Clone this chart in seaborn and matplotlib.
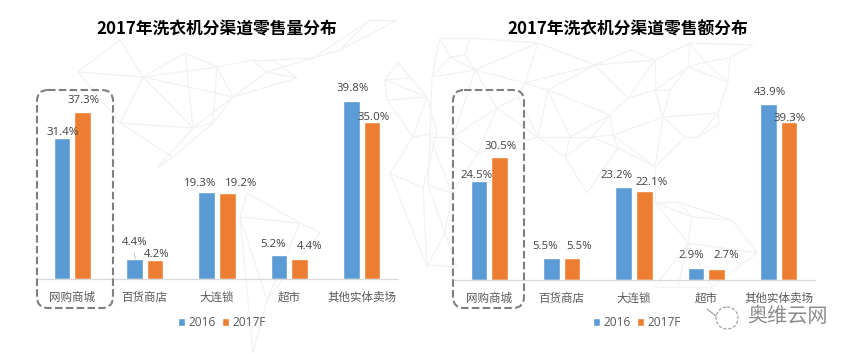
import numpy as np
import pandas as pd
import matplotlib
matplotlib.use("Agg")
import matplotlib.pyplot as plt
from matplotlib.patches import FancyBboxPatch, Circle
from matplotlib.collections import LineCollection
import seaborn as sns

categories = ["网购商城", "百货商店", "大连锁", "超市", "其他实体卖场"]
years = ["2016", "2017F"]
volume_2016 = [31.4, 4.4, 19.3, 5.2, 39.8]
volume_2017 = [37.3, 4.2, 19.2, 4.4, 35.0]
value_2016 = [24.5, 5.5, 23.2, 2.9, 43.9]
value_2017 = [30.5, 5.5, 22.1, 2.7, 39.3]
title_volume = "2017年洗衣机分渠道零售量分布"
title_value = "2017年洗衣机分渠道零售额分布"

# label offsets in pixels from the bar's top-centre (style only)
off_vol = [[(1, 6), (0, 16), (-7, 9), (-6, 11), (1, 12)],
           [(1, 11), (2, 5), (14, 9), (10, 12), (2, 5)]]
off_val = [[(-2, 6), (-6, 11), (-7, 11), (-5, 12), (1, 11)],
           [(1, 11), (7, 11), (7, 8), (10, 13), (1, 4)]]

W, H = 857, 354
BLUE, ORANGE = "#5b9bd5", "#ed7d31"
TXT = "#595959"
sns.set_theme(style="white")
plt.rcParams["font.family"] = ["Noto Sans CJK SC", "DejaVu Sans"]
fig = plt.figure(figsize=(W / 100, H / 100), dpi=100, facecolor="white")

# faint decorative mesh behind everything, in pixel coordinates
bg = fig.add_axes([0, 0, 1, 1], zorder=0)
bg.set_xlim(0, W); bg.set_ylim(H, 0); bg.axis("off")
mesh_paths = [
    [(78, 72), (120, 40), (143, 77), (78, 72), (120, 123), (143, 77), (185, 53), (217, 67), (143, 77), (193, 128), (120, 123)],
    [(120, 123), (173, 157), (157, 168), (193, 128), (213, 123), (233, 97), (217, 67), (252, 60), (273, 60), (297, 78), (233, 97)],
    [(185, 53), (193, 128), (233, 97), (143, 77)],
    [(217, 67), (213, 123), (173, 157)],
    [(252, 60), (267, 72), (297, 78)],
    [(233, 97), (267, 72), (313, 58), (340, 50), (397, 20), (370, 20), (313, 58), (273, 60)],
    [(340, 50), (370, 20)],
    [(398, 63), (410, 78), (385, 80), (398, 63), (427, 97), (387, 100), (385, 80), (427, 97), (413, 137), (387, 100)],
    [(413, 137), (437, 133), (427, 97)],
    [(413, 137), (390, 173), (423, 188), (437, 133)],
    [(423, 188), (427, 267), (390, 173)],
    [(247, 193), (300, 223), (320, 233), (267, 300), (253, 353), (240, 217), (247, 193)],
    [(240, 217), (300, 223), (267, 300), (240, 217)],
    [(440, 38), (470, 38), (465, 55), (450, 57), (440, 38), (432, 77), (450, 57), (475, 70), (465, 55)],
    [(470, 38), (538, 43), (475, 70), (525, 83), (538, 43), (595, 65), (525, 83), (548, 90), (595, 65), (630, 50), (655, 60), (595, 65)],
    [(432, 77), (475, 70), (497, 108), (518, 97), (525, 83)],
    [(432, 77), (430, 137), (453, 137), (475, 70)],
    [(453, 137), (497, 108), (478, 153), (453, 137), (452, 193), (478, 153), (538, 137), (497, 108)],
    [(430, 137), (452, 193), (428, 185), (430, 137)],
    [(428, 185), (445, 233), (452, 193)],
    [(428, 265), (445, 233), (457, 267), (428, 265)],
    [(518, 97), (538, 137), (548, 90), (570, 137), (538, 137), (565, 157), (570, 137), (592, 137), (565, 157), (587, 193), (618, 148), (592, 137)],
    [(548, 90), (610, 115), (570, 137)],
    [(610, 115), (592, 137), (613, 135), (610, 115), (628, 98), (655, 90), (663, 117), (613, 135), (618, 148), (655, 167), (613, 135)],
    [(595, 65), (628, 98), (655, 60), (655, 90), (688, 67), (670, 90), (663, 117), (655, 90), (670, 90)],
    [(655, 60), (690, 43), (688, 67), (705, 62), (690, 43), (753, 45), (730, 58), (705, 62), (728, 82), (730, 58)],
    [(688, 67), (728, 82), (718, 113), (718, 125), (698, 137), (685, 137), (663, 117), (718, 113), (698, 137)],
    [(655, 167), (685, 137), (663, 117), (655, 167), (655, 202), (678, 202), (692, 217), (732, 220), (757, 253), (688, 243), (692, 217), (655, 202), (688, 243), (655, 287), (678, 287), (688, 243), (712, 287), (678, 287)],
    [(678, 202), (732, 220)],
    [(757, 253), (712, 287)],
]
segs = [(a, b) for p in mesh_paths for a, b in zip(p[:-1], p[1:])]
bg.add_collection(LineCollection(segs, colors="#f2f2f2", linewidths=0.9))


def panel(x0, x1, base, px_per_unit, v1, v2, offs, title, tcx, box, legend_x):
    top = 50
    ax = fig.add_axes([x0 / W, (H - base) / H, (x1 - x0) / W, top * px_per_unit / H], zorder=2)
    ax.patch.set_alpha(0)
    df = pd.DataFrame({
        "cat": categories * 2,
        "year": [years[0]] * 5 + [years[1]] * 5,
        "val": list(v1) + list(v2),
    })
    sns.barplot(data=df, x="cat", y="val", hue="year", hue_order=years,
                palette=[BLUE, ORANGE], width=0.57, gap=0.19, ax=ax,
                saturation=1, errorbar=None)
    ax.set_ylim(0, top)
    ax.set_xlim(-0.5, 4.5)
    ax.set_xlabel(""); ax.set_ylabel("")
    ax.set_yticks([])
    for s in ("top", "left", "right"):
        ax.spines[s].set_visible(False)
    ax.spines["bottom"].set_color("#d9d9d9")
    ax.spines["bottom"].set_linewidth(0.9)
    ax.tick_params(axis="x", length=0, pad=9, labelsize=8.3, labelcolor=TXT)
    for t, c in zip(ax.containers, range(2)):
        for i, bar in enumerate(t):
            dx, dy = offs[c][i]
            ax.annotate(f"{bar.get_height():.1f}%",
                        (bar.get_x() + bar.get_width() / 2, bar.get_height()),
                        xytext=(dx * 0.72, dy * 0.72), textcoords="offset points",
                        ha="center", va="center", fontsize=8.2, color="#404040",
                        family=["Open Sans", "DejaVu Sans"], zorder=5)
    leg = ax.get_legend()
    if leg:
        leg.remove()
    h = [plt.Rectangle((0, 0), 1, 1, fc=BLUE), plt.Rectangle((0, 0), 1, 1, fc=ORANGE)]
    fig.legend(h, years, loc="center left",
               bbox_to_anchor=(legend_x / W, (H - 322.5) / H), ncol=2, frameon=False,
               handlelength=0.6, handleheight=0.6, handletextpad=0.3,
               columnspacing=0.5, borderpad=0, borderaxespad=0,
               prop={"family": ["Open Sans", "DejaVu Sans"], "size": 8.6},
               labelcolor=TXT)
    fg.text(tcx, 30, title, ha="center", va="center", fontsize=12.1,
            fontweight=900, color="black")
    fg.add_patch(FancyBboxPatch((box[0] + 11, box[1] + 11), box[2] - 22, box[3] - 22,
                                boxstyle="round,pad=11,rounding_size=11", fc="none",
                                ec="#7f7f7f", lw=1.5, ls=(0, (3.6, 1.6)), zorder=6))


fg = fig.add_axes([0, 0, 1, 1], zorder=3)
fg.set_xlim(0, W); fg.set_ylim(H, 0); fg.axis("off")

panel(36, 398, 278.6, 4.47, volume_2016, volume_2017, off_vol, title_volume, 217,
      (37, 90, 76, 218), 177.5)
panel(453, 815, 279.6, 4.01, value_2016, value_2017, off_val, title_value, 628,
      (453, 90, 71, 218), 592.5)

# leader line of the 4.4% label
fg.plot([134, 135.5], [252, 259], color="#bfbfbf", lw=0.6)

# watermark
fg.add_patch(Circle((727, 318), 11, fc="none", ec="#999999", lw=0.8, ls=(0, (3, 1.5))))
fg.plot([707, 716], [309, 316], color="#999999", lw=0.8)
fg.text(787, 316, "奥维云网", ha="center", va="center", fontsize=14.5, color="#8c8c8c")

fig.savefig("out.png", dpi=100, facecolor="white")
